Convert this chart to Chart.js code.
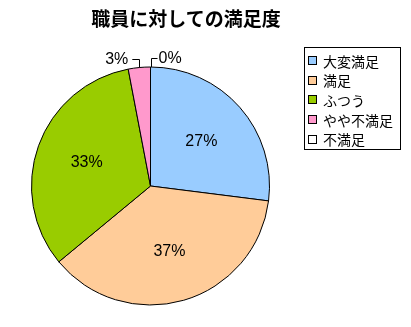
<!DOCTYPE html>
<html lang="ja">
<head>
<meta charset="utf-8">
<script src="https://cdn.jsdelivr.net/npm/chart.js@4/dist/chart.umd.min.js"></script>
<style>
    html, body { margin: 0; padding: 0; background: #fff; }
    #wrap { position: relative; width: 411px; height: 327px; }
    #title {
        position: absolute; left: 0; width: 372px; top: 4px;
        text-align: center; font: bold 19px "Noto Sans CJK JP", sans-serif; color: #000;
    }
    #legend {
        position: absolute; left: 304px; top: 47px; width: 95px; height: 98px;
        border: 1px solid #000; box-sizing: content-box;
        font: 14px "Noto Sans CJK JP", sans-serif; color: #000;
        padding: 3px 0 0 0; margin: 0; list-style: none; overflow: hidden;
    }
    #legend li {
        display: flex; align-items: center; height: 19.6px;
        white-space: nowrap; margin-left: 3px;
    }
    #legend span.sw {
        display: block; width: 7px; height: 7px; border: 1px solid #000;
        margin-right: 6px; flex: none;
    }
</style>
</head>
<body>
<div id="wrap">
    <canvas id="pie" width="411" height="327"></canvas>
    <div id="title"></div>
    <ul id="legend"></ul>
</div>
<script>
/* ================= DATA ================= */
const chartTitle = "職員に対しての満足度";
const categories = ["大変満足", "満足", "ふつう", "やや不満足", "不満足"];
const percents = [27, 37, 33, 3, 0];
const sliceColors = ["#99CCFF", "#FFCC99", "#99CC00", "#FF99CC", "#FFFFFF"];

/* ================= TITLE + LEGEND ================= */
document.getElementById("title").innerText = chartTitle;

const legendEl = document.getElementById("legend");
categories.forEach((name, i) => {
    const li = document.createElement("li");
    const sw = document.createElement("span");
    sw.className = "sw";
    sw.style.background = sliceColors[i];
    li.appendChild(sw);
    li.appendChild(document.createTextNode(name));
    legendEl.appendChild(li);
});

/* ================= PERCENT LABELS ================= */
const pctLabels = {
    id: "pctLabels",
    afterDatasetsDraw(chart) {
        const ctx = chart.ctx;
        const arcs = chart.getDatasetMeta(0).data;
        ctx.save();
        ctx.fillStyle = "#000";
        ctx.strokeStyle = "#000";
        ctx.lineWidth = 1;
        ctx.font = "16px 'Liberation Sans', Arial, sans-serif";
        ctx.textBaseline = "middle";

        arcs.forEach((arc, i) => {
            const { x, y, startAngle, endAngle, outerRadius } = arc.getProps(
                ["x", "y", "startAngle", "endAngle", "outerRadius"], true);
            const mid = (startAngle + endAngle) / 2;
            const text = percents[i] + "%";

            if (percents[i] >= 5) {
                // inside the slice
                const d = outerRadius * 0.57;
                ctx.textAlign = "center";
                ctx.fillText(text, x + Math.cos(mid) * d, y + Math.sin(mid) * d);
                return;
            }

            // small slice: elbow leader line to an outside label
            const ax = x + Math.cos(mid) * outerRadius;
            const ay = y + Math.sin(mid) * outerRadius;
            const ey = ay - 9;
            const toLeft = Math.cos(mid) < -0.01;
            const ex = toLeft ? ax - 7 : ax + 7;

            ctx.beginPath();
            ctx.moveTo(Math.round(ax) + 0.5, ay);
            ctx.lineTo(Math.round(ax) + 0.5, Math.round(ey) + 0.5);
            ctx.lineTo(ex, Math.round(ey) + 0.5);
            ctx.stroke();

            ctx.textAlign = toLeft ? "right" : "left";
            ctx.fillText(text, toLeft ? ex - 4 : ex + 1, ey + 1);
        });
        ctx.restore();
    }
};

/* ================= CHART ================= */
new Chart(document.getElementById("pie"), {
    type: "pie",
    data: {
        labels: categories,
        datasets: [{
            data: percents,
            backgroundColor: sliceColors,
            borderColor: "#000",
            borderWidth: 1
        }]
    },
    options: {
        responsive: false,
        animation: false,
        layout: { padding: { left: 31, right: 141, top: 66, bottom: 21 } },
        plugins: {
            legend: { display: false },
            tooltip: { enabled: false },
            title: { display: false }
        }
    },
    plugins: [pctLabels]
});
</script>
</body>
</html>
